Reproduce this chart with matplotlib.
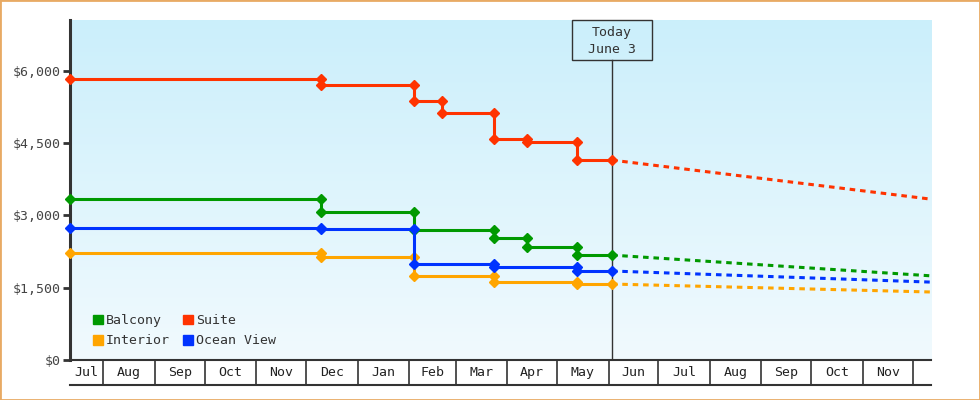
import numpy as np
import pandas as pd
import matplotlib
matplotlib.use('Agg')
import matplotlib.pyplot as plt
import matplotlib.dates as mdates
from matplotlib.patches import Rectangle, Patch

plt.rcParams['font.family'] = ['DejaVu Sans Mono']
plt.rcParams['lines.scale_dashes'] = False

# time window shown and the "today" marker
start = pd.Timestamp('2010-07-12')
end = pd.Timestamp('2011-12-12')
today = pd.Timestamp('2011-06-03')

# price changes: dates of each drop, prices before/after (first = opening price)
suite_dates = ['2010-12-10', '2011-02-04', '2011-02-21', '2011-03-24', '2011-04-13', '2011-05-13']
suite_prices = [5820, 5700, 5370, 5120, 4590, 4520, 4145]
suite_forecast = 3335

balcony_dates = ['2010-12-10', '2011-02-04', '2011-03-24', '2011-04-13', '2011-05-13']
balcony_prices = [3335, 3065, 2700, 2530, 2340, 2175]
balcony_forecast = 1745

ocean_dates = ['2010-12-10', '2011-02-04', '2011-03-24', '2011-05-13']
ocean_prices = [2735, 2715, 1990, 1925, 1845]
ocean_forecast = 1615

interior_dates = ['2010-12-10', '2011-02-04', '2011-03-24', '2011-05-13']
interior_prices = [2215, 2140, 1740, 1615, 1575]
interior_forecast = 1410

y_ticks = [0, 1500, 3000, 4500, 6000]

series = [
    ('Balcony', '#009900', balcony_dates, balcony_prices, balcony_forecast),
    ('Interior', '#ffa500', interior_dates, interior_prices, interior_forecast),
    ('Suite', '#ff3300', suite_dates, suite_prices, suite_forecast),
    ('Ocean View', '#0033ff', ocean_dates, ocean_prices, ocean_forecast),
]

FS = 9.5


def step_points(dates, prices):
    """turn change dates + prices into a step polyline"""
    xs = [start]
    ys = [prices[0]]
    for d, old, new in zip(dates, prices[:-1], prices[1:]):
        xs += [pd.Timestamp(d), pd.Timestamp(d)]
        ys += [old, new]
    xs.append(today)
    ys.append(prices[-1])
    return xs, ys


fig = plt.figure(figsize=(9.8, 4), dpi=100)
ax = fig.add_axes([70 / 980, 40 / 400, 861 / 980, 340 / 400])

# background gradient
top = np.array([203, 239, 251]) / 255
bottom = np.array([241, 250, 254]) / 255
t = np.linspace(0, 1, 256)[:, None]
grad = (top[None, :] * (1 - t) + bottom[None, :] * t)[:, None, :]
ax.imshow(grad, extent=[0, 1, 0, 1], transform=ax.transAxes, aspect='auto', zorder=0)

for name, color, dates, prices, fc in series:
    xs, ys = step_points(dates, prices)
    ax.plot(xs, ys, color=color, lw=2.2, marker='D', ms=5.5, zorder=3, clip_on=False)
    ax.plot([today, end], [prices[-1], fc], color=color, lw=2.2,
            linestyle=(0, (4, 3.5)), zorder=2)

ax.set_xlim(start, end)
ax.set_ylim(0, 7050)
ax.set_xticks([])
ax.set_yticks(y_ticks)
ax.set_yticklabels([f'${v:,}' for v in y_ticks])
ax.tick_params(axis='y', length=5, width=2, color='#333333', labelsize=FS,
               labelcolor='#444444', pad=2)
for s in ['top', 'right']:
    ax.spines[s].set_visible(False)
ax.spines['left'].set_linewidth(2.2)
ax.spines['left'].set_color('#333333')
ax.spines['bottom'].set_linewidth(1.5)
ax.spines['bottom'].set_color('#333333')

# today marker with label box
span = mdates.date2num(end) - mdates.date2num(start)
tf = (mdates.date2num(today) - mdates.date2num(start)) / span
box_w = 80 / 861
box_h = 40.3 / 340
ax.axvline(today, ymin=0, ymax=1 - box_h, color='#333333', lw=1, zorder=1.5)
ax.add_patch(Rectangle((tf - box_w / 2, 1 - box_h), box_w, box_h, transform=ax.transAxes,
                       fill=False, edgecolor='#333333', lw=1, clip_on=False, zorder=4))
ax.text(tf, 1 - 21.2 / 340, 'Today\nJune 3', transform=ax.transAxes, ha='center',
        va='center', fontsize=FS, color='#333333', linespacing=1.4)

# legend
handles = [Patch(color=c, label=n) for n, c, *_ in series]
ax.legend(handles=handles, ncol=2, loc='lower left', bbox_to_anchor=(0.027, 0.037),
          frameon=False, fontsize=FS, handlelength=0.76, handleheight=0.76,
          handletextpad=0.2, columnspacing=1.0, labelspacing=0.55,
          borderaxespad=0, borderpad=0, labelcolor='#333333')

# month band under the plot
axb = fig.add_axes([70 / 980, 15 / 400, 861 / 980, 25 / 400])
axb.set_xlim(start, end)
axb.set_ylim(0, 1)
axb.set_xticks([])
axb.set_yticks([])
axb.patch.set_alpha(0)
for s in ['top', 'left', 'right']:
    axb.spines[s].set_visible(False)
axb.spines['bottom'].set_linewidth(1.5)
axb.spines['bottom'].set_color('#333333')
months = pd.date_range('2010-07-01', '2012-01-01', freq='MS')
for m0, m1 in zip(months[:-1], months[1:]):
    a = max(m0, start)
    b = min(m1, end)
    if start < m0 < end:
        axb.axvline(m0, color='#333333', lw=1.2)
    if (b - a).days >= 15:
        axb.text(a + (b - a) / 2, 0.5, m0.strftime('%b'), ha='center', va='center',
                 fontsize=FS, color='#222222')

fig.add_artist(Rectangle((0, 0), 1, 1, transform=fig.transFigure, fill=False,
                         edgecolor='#e8aa64', lw=2))

fig.savefig('out.png', dpi=100)
